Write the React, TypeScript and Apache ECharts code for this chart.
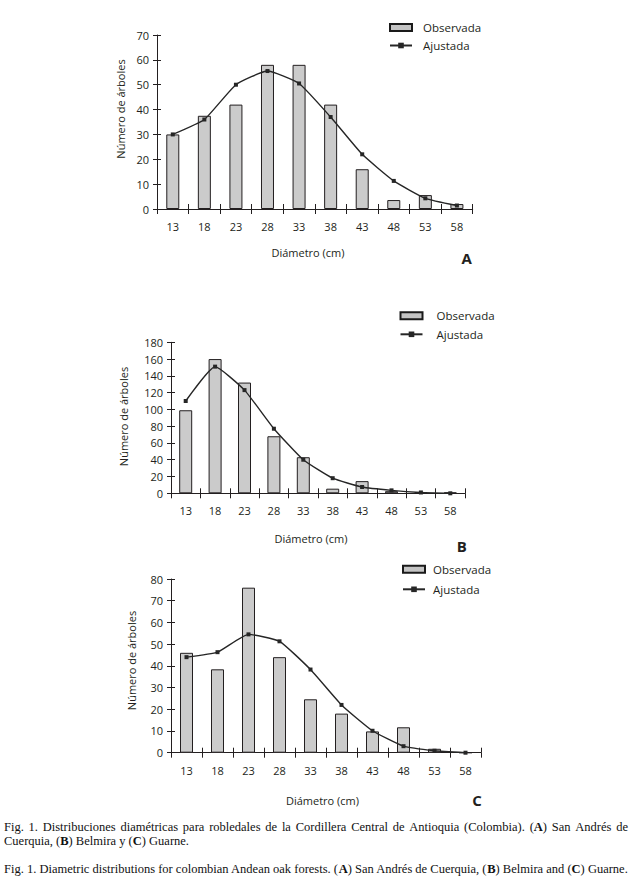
import React, { useEffect, useRef } from "react";
import * as echarts from "echarts";

const categories = ["13", "18", "23", "28", "33", "38", "43", "48", "53", "58"];

const observedA = [30, 37.5, 42, 58, 58, 42, 16, 3.6, 5.6, 2];
const fittedA = [30, 36, 50, 55.5, 50.5, 37, 22, 11.3, 4.3, 1.4];

const observedB = [99, 160, 132, 68, 43, 5.5, 14.5, 2.5, 1.5, 1];
const fittedB = [110, 151, 123, 77, 40, 18, 7.5, 3.5, 1, 0];

const observedC = [46, 38.4, 76, 44, 24.6, 18, 9.8, 11.7, 1.8, 0];
const fittedC = [44, 46.3, 54.5, 51.3, 38.3, 22, 10.1, 3, 0.9, 0];

const yMaxes = [70, 180, 80];
const yIntervals = [10, 20, 10];

const seriesNames = ["Observada", "Ajustada"];
const panelLetters = ["A", "B", "C"];
const xTitle = "Diámetro (cm)";
const yTitle = "Número de árboles";

const captionLines = [
  "Fig. 1. Distribuciones diamétricas para robledales de la Cordillera Central de Antioquia (Colombia). ({b|A}) San Andrés de",
  "Cuerquia, ({b|B}) Belmira y ({b|C}) Guarne.",
  "Fig. 1. Diametric distributions for colombian Andean oak forests. ({b|A}) San Andrés de Cuerquia, ({b|B}) Belmira and ({b|C}) Guarne.",
];

const SANS = "'Open Sans', 'Noto Sans', sans-serif";
const SERIF = "'Liberation Serif', 'DejaVu Serif', serif";
const INK = "#231f20";
const CAP_SIZE = 12.5;

function measureRich(ctx: CanvasRenderingContext2D, word: string) {
  const parts = word.split(/(\{b\|[^}]*\})/);
  let w = 0;
  for (const p of parts) {
    if (!p) continue;
    const m = p.match(/^\{b\|([^}]*)\}$/);
    if (m) {
      ctx.font = `bold ${CAP_SIZE}px 'Liberation Serif'`;
      w += ctx.measureText(m[1]).width;
    } else {
      ctx.font = `${CAP_SIZE}px 'Liberation Serif'`;
      w += ctx.measureText(p).width;
    }
  }
  return w;
}

export default function App() {
  const ref = useRef<HTMLDivElement>(null);

  useEffect(() => {
    if (!ref.current) return;
    const chart = echarts.init(ref.current, undefined, { renderer: "svg" });

    const grids = [
      { left: 157, top: 35, width: 315.7, height: 174 },
      { left: 171, top: 342.3, width: 294, height: 151 },
      { left: 171, top: 579, width: 310, height: 173.7 },
    ];
    const observed = [observedA, observedB, observedC];
    const fitted = [fittedA, fittedB, fittedC];

    const xAxes: any[] = [];
    const yAxes: any[] = [];
    const series: any[] = [];
    grids.forEach((_, i) => {
      xAxes.push({
        type: "category",
        gridIndex: i,
        data: categories,
        boundaryGap: true,
        axisLine: { lineStyle: { color: INK, width: 1 } },
        axisTick: { show: true, length: 5, lineStyle: { color: INK } },
        axisLabel: { margin: 12, fontSize: 11, color: INK, fontFamily: SANS },
        splitLine: { show: false },
      });
      xAxes.push({
        type: "category",
        gridIndex: i,
        data: categories,
        boundaryGap: true,
        position: "bottom",
        axisLine: { show: false },
        axisTick: { show: true, inside: true, length: 5, lineStyle: { color: INK } },
        axisLabel: { show: false },
        splitLine: { show: false },
      });
      yAxes.push({
        type: "value",
        gridIndex: i,
        min: 0,
        max: yMaxes[i],
        interval: yIntervals[i],
        position: "left",
        axisLine: { show: true, lineStyle: { color: INK, width: 1 } },
        axisTick: { show: true, length: 4, lineStyle: { color: INK } },
        axisLabel: { margin: 8, fontSize: 11, color: INK, fontFamily: SANS },
        splitLine: { show: false },
      });
      yAxes.push({
        type: "value",
        gridIndex: i,
        min: 0,
        max: yMaxes[i],
        interval: yIntervals[i],
        position: "left",
        axisLine: { show: false },
        axisTick: { show: true, inside: true, length: 4, lineStyle: { color: INK } },
        axisLabel: { show: false },
        splitLine: { show: false },
      });
      series.push({
        name: seriesNames[0],
        type: "bar",
        xAxisIndex: i * 2,
        yAxisIndex: i * 2,
        data: observed[i],
        barWidth: 13,
        itemStyle: { color: "#cbcbcb", borderColor: INK, borderWidth: 1 },
        z: 2,
      });
      series.push({
        name: seriesNames[1],
        type: "line",
        xAxisIndex: i * 2,
        yAxisIndex: i * 2,
        data: fitted[i],
        smooth: 0.15,
        symbol: "rect",
        symbolSize: 4,
        lineStyle: { color: "#262626", width: 1.4 },
        itemStyle: { color: "#262626" },
        z: 3,
      });
    });

    const legendPos = [
      { left: 389, top: 21.5, gap: 6, pad: 6 },
      { left: 399.5, top: 309.7, gap: 6.6, pad: 9 },
      { left: 402, top: 563.3, gap: 8, pad: 3 },
    ];
    const legends = legendPos.map((p) => ({
      orient: "vertical",
      left: p.left,
      top: p.top,
      padding: 0,
      itemWidth: 22,
      itemHeight: 7,
      itemGap: p.gap,
      selectedMode: false,
      formatter: (name: string) => `{g|}{t|${name}}`,
      textStyle: {
        fontSize: 11.5,
        color: INK,
        fontFamily: SANS,
        rich: {
          g: { width: p.pad },
          t: { fontSize: 11.5, color: INK, fontFamily: SANS },
        },
      },
      data: [
        {
          name: seriesNames[0],
          icon: "rect",
          itemStyle: { color: "#c4c4c4", borderColor: "#1a1a1a", borderWidth: 2 },
        },
        { name: seriesNames[1] },
      ],
    }));

    const xTitlePos = [
      [308, 252],
      [311, 538],
      [322.5, 800],
    ];
    const yTitlePos = [
      [120, 109],
      [123.3, 416.5],
      [131.7, 660.5],
    ];
    const letterPos = [
      [466.7, 258],
      [461.7, 546],
      [477, 800],
    ];

    const graphics: any[] = [];
    for (let i = 0; i < 3; i++) {
      graphics.push({
        type: "text",
        x: xTitlePos[i][0],
        y: xTitlePos[i][1],
        style: {
          text: xTitle,
          fontSize: 11,
          fontFamily: SANS,
          fill: INK,
          align: "center",
          verticalAlign: "middle",
        },
      });
      graphics.push({
        type: "text",
        x: yTitlePos[i][0],
        y: yTitlePos[i][1],
        rotation: Math.PI / 2,
        style: {
          text: yTitle,
          fontSize: 11,
          fontFamily: SANS,
          fill: INK,
          align: "center",
          verticalAlign: "middle",
        },
      });
      graphics.push({
        type: "text",
        x: letterPos[i][0],
        y: letterPos[i][1],
        style: {
          text: panelLetters[i],
          fontSize: 15,
          fontWeight: "bold",
          fontFamily: SANS,
          fill: INK,
          align: "center",
          verticalAlign: "middle",
        },
      });
    }

    const richStyle = {
      b: { fontSize: CAP_SIZE, fontFamily: SERIF, fontWeight: "bold", fill: "#111" },
    };
    const captionY = [827, 841, 869];
    const canvas = document.createElement("canvas");
    const ctx = canvas.getContext("2d") as CanvasRenderingContext2D;

    // Line 1: justified between x=4 and x=628
    const words = captionLines[0].split(" ");
    const widths = words.map((w) => measureRich(ctx, w));
    const total = widths.reduce((a, b) => a + b, 0);
    const gap = (628 - 4 - total) / (words.length - 1);
    let cx = 4;
    words.forEach((w, k) => {
      graphics.push({
        type: "text",
        x: cx,
        y: captionY[0],
        style: {
          text: w,
          fontSize: CAP_SIZE,
          fontFamily: SERIF,
          fill: "#111",
          align: "left",
          verticalAlign: "middle",
          rich: richStyle,
        },
      });
      cx += widths[k] + gap;
    });

    [1, 2].forEach((i) => {
      graphics.push({
        type: "text",
        x: 4,
        y: captionY[i],
        style: {
          text: captionLines[i],
          fontSize: CAP_SIZE,
          fontFamily: SERIF,
          fill: "#111",
          align: "left",
          verticalAlign: "middle",
          rich: richStyle,
        },
      });
    });

    chart.setOption({
      animation: false,
      backgroundColor: "#ffffff",
      grid: grids,
      xAxis: xAxes,
      yAxis: yAxes,
      legend: legends,
      series,
      graphic: graphics,
    });

    return () => chart.dispose();
  }, []);

  return (
    <div
      ref={ref}
      style={{ position: "absolute", left: 0, top: 0, width: 635, height: 890, background: "#fff" }}
    />
  );
}
